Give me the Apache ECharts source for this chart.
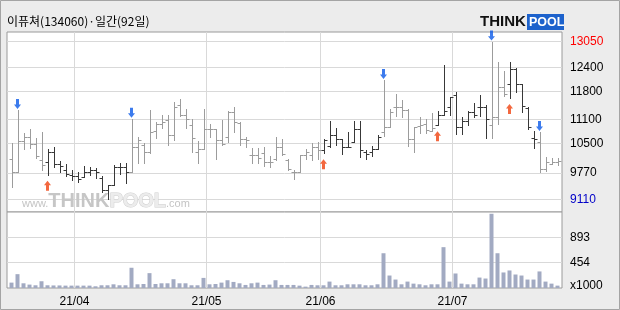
<!DOCTYPE html>
<html><head><meta charset="utf-8">
<script src="https://cdn.jsdelivr.net/npm/echarts@6/dist/echarts.min.js"></script>
<style>html,body{margin:0;padding:0;background:#ececec}#c{width:620px;height:310px}</style>
</head><body><div id="c"></div>
<script>
const titleText = '이퓨쳐(134060)·일간(92일)';
const opens  = [10120,9780,10570,10660,10490,10080,10030,10280,9990,9840,9720,9690,9660,9800,9840,9640,9340,9470,9910,9910,9790,10410,10470,10300,10820,10990,11090,10720,11470,11220,10970,10300,10360,10860,10860,10590,10660,11300,11010,10610,10220,10220,10260,10050,10110,10410,10090,9800,9800,10220,10220,10410,10330,10440,10720,10610,10410,10530,10860,10300,10300,10360,10780,10910,11410,11410,11340,10610,10940,10990,10820,10960,11210,11420,11710,10920,11060,11280,11420,11420,10960,11170,11920,12000,12360,12000,11390,10640,10530,9860,10000,10040];
const highs  = [10510,11340,10760,10870,10640,10800,10360,10410,10070,9990,9840,9800,9930,9910,9890,9690,9470,9970,10010,10010,11120,10670,10520,11330,11030,11220,11220,11530,11620,11360,11110,10560,11360,10990,10860,11080,11320,11410,11050,10660,10390,10390,10410,10190,10660,10620,10110,9840,10220,10360,10510,10530,10610,11070,10890,10610,10780,11070,11070,10330,10440,10720,12090,11360,11740,11580,11360,10910,11160,11110,11270,11310,12460,11670,11790,11170,11310,11520,11710,11460,13050,12530,12310,12530,12380,12000,11420,10810,10790,10170,10140,10130];
const lows   = [9410,9780,10360,10390,10140,9840,9720,9910,9790,9690,9580,9550,9660,9720,9640,9280,9110,9470,9740,9510,9780,10020,10010,10270,10650,10890,10470,10590,11200,10900,10300,10010,10360,10660,10110,10470,10550,10800,10470,10410,10010,10010,9940,9910,10080,10220,9830,9610,9800,10110,10090,10110,10260,10410,10470,10240,10410,10530,10160,10110,10180,10360,10690,10910,11180,11160,10440,10300,10760,10760,10810,10960,11210,11210,10750,10750,10960,11170,11190,10640,10640,11000,11690,11640,11790,11280,10860,10390,9790,9810,9980,9960];
const closes = [9780,10570,10660,10490,10180,9970,10280,9990,9930,9740,9690,9610,9800,9840,9780,9340,9470,9910,9910,9780,10410,10590,10280,10800,10990,11040,10720,11410,11220,11110,10650,10360,10860,10860,10580,10480,11280,11050,10610,10580,10220,10140,10050,10050,10410,10240,9860,9800,10220,10280,10410,10330,10590,10720,10610,10410,10410,10860,10330,10240,10360,10660,10910,11300,11410,11340,10610,10910,10970,10830,10900,11210,11310,11670,10920,11060,11280,11210,11420,11110,11170,11920,11730,12360,12000,11440,10920,10610,9860,10040,10030,10060];
const volumes = [95,244,83,60,48,119,48,45,45,42,42,42,42,42,30,48,48,65,48,48,357,65,71,262,71,83,83,155,83,83,48,48,178,65,71,95,137,107,83,54,83,95,54,60,137,54,54,54,42,24,54,48,48,113,48,48,65,65,65,48,48,65,613,220,149,65,113,77,65,48,65,65,720,113,256,77,65,65,184,167,1309,613,274,309,238,220,149,149,292,113,77,42];
const buySignals  = [6, 52, 71, 83];
const sellSignals = [1, 20, 62, 80, 88];
const priceTicks  = [9110, 9770, 10500, 11100, 11800, 12400, 13050];
const volumeTicks = [454, 893];
const monthLabels = ['21/04', '21/05', '21/06', '21/07'];
const monthStarts = [11, 33, 52, 74];

const DARK = '#383838', GRAY = '#9c9c9c', GRID = '#d9d9d9';
function isHolding(i) {
  let last = -1, type = null;
  buySignals.forEach(b => { if (b <= i && b > last) { last = b; type = 'buy'; } });
  sellSignals.forEach(s => { if (s <= i && s > last) { last = s; type = 'sell'; } });
  return type === 'buy';
}
const monthTicks = monthStarts.map(i => i - 0.5);
const ohlc = opens.map((o, i) => [i, o, highs[i], lows[i], closes[i]]);
const numFont = 'Liberation Sans';
const pMax = Math.max(...priceTicks), pMin = Math.min(...priceTicks);

const chart = echarts.init(document.getElementById('c'), null, {renderer: 'canvas'});
chart.setOption({
  animation: false,
  backgroundColor: '#ececec',
  title: {text: titleText, left: 7, top: 15, padding: 0,
    textStyle: {fontSize: 12, fontWeight: 'normal', color: '#000', fontFamily: 'Noto Sans CJK KR'}},
  grid: [
    {left: 7, top: 32, width: 555, height: 180, show: true, backgroundColor: '#fff', borderColor: '#9a9a9a', borderWidth: 1},
    {left: 7, top: 212, width: 555, height: 76, show: true, backgroundColor: '#fff', borderColor: '#9a9a9a', borderWidth: 1}
  ],
  xAxis: [
    {gridIndex: 0, type: 'value', min: -0.75, max: 91.75,
      axisLine: {show: false}, axisTick: {show: false, customValues: monthTicks},
      axisLabel: {show: false, customValues: monthTicks},
      splitLine: {show: true, lineStyle: {color: GRID, width: 1}}},
    {gridIndex: 1, type: 'value', min: -0.75, max: 91.75,
      axisLine: {show: false}, axisTick: {show: false, customValues: monthTicks},
      axisLabel: {show: true, customValues: monthTicks, margin: 8, color: '#000', fontSize: 12, fontFamily: numFont,
        formatter: v => monthLabels[monthTicks.indexOf(Number(v))] || ''},
      splitLine: {show: true, lineStyle: {color: GRID, width: 1}}}
  ],
  yAxis: [
    {gridIndex: 0, type: 'value', position: 'right', min: 8790, max: 13290,
      axisLine: {show: false}, axisTick: {show: false, customValues: priceTicks},
      axisLabel: {customValues: priceTicks, margin: 8, fontSize: 12, fontFamily: numFont,
        formatter: v => String(v),
        color: v => Number(v) === pMax ? '#ff0000' : (Number(v) === pMin ? '#0000c8' : '#000')},
      splitLine: {show: true, lineStyle: {color: GRID, width: 1}}},
    {gridIndex: 1, type: 'value', position: 'right', min: 0, max: 1340,
      axisLine: {show: false}, axisTick: {show: false, customValues: volumeTicks},
      axisLabel: {customValues: volumeTicks, margin: 8, fontSize: 12, fontFamily: numFont, color: '#000',
        formatter: v => String(v)},
      splitLine: {show: true, lineStyle: {color: GRID, width: 1}}}
  ],
  series: [
    {type: 'custom', xAxisIndex: 0, yAxisIndex: 0, data: ohlc, z: 3, silent: true,
      encode: {x: 0, y: [1, 2, 3, 4]},
      renderItem: (params, api) => {
        const i = api.value(0);
        const pO = api.coord([i, api.value(1)]);
        const pH = api.coord([i, api.value(2)]);
        const pL = api.coord([i, api.value(3)]);
        const pC = api.coord([i, api.value(4)]);
        const x = Math.round(pO[0]) + 0.5;
        const yo = Math.round(pO[1]) + 0.5, yc = Math.round(pC[1]) + 0.5;
        const st = {stroke: isHolding(i) ? DARK : GRAY, lineWidth: 1};
        return {type: 'group', children: [
          {type: 'line', shape: {x1: x, y1: Math.round(pH[1]), x2: x, y2: Math.round(pL[1]) + 1}, style: st},
          {type: 'line', shape: {x1: x - 3, y1: yo, x2: x, y2: yo}, style: st},
          {type: 'line', shape: {x1: x, y1: yc, x2: x + 3, y2: yc}, style: st}
        ]};
      }},
    {type: 'scatter', xAxisIndex: 0, yAxisIndex: 0, silent: true, z: 4,
      data: buySignals.map(i => [i, lows[i]]),
      symbol: 'path://M3.5,0 L7,4 L5,4 L5,9 L2,9 L2,4 L0,4 Z', symbolSize: [7, 10], symbolOffset: [0, 11],
      itemStyle: {color: '#f0420f'}},
    {type: 'scatter', xAxisIndex: 0, yAxisIndex: 0, silent: true, z: 4,
      data: sellSignals.map(i => [i, highs[i]]),
      symbol: 'path://M2,0 L5,0 L5,5 L7,5 L3.5,9 L0,5 L2,5 Z', symbolSize: [7, 10], symbolOffset: [0, -6],
      itemStyle: {color: '#0b5ae8'}},
    {type: 'bar', xAxisIndex: 1, yAxisIndex: 1, silent: true, barWidth: 4,
      data: volumes.map((v, i) => [i, v]), itemStyle: {color: '#a2aac2'}}
  ],
  graphic: [
    {type: 'rect', z: 100, silent: true, shape: {x: 0.5, y: 0.5, width: 619, height: 309},
      style: {fill: 'none', stroke: '#a4a4a4', lineWidth: 1}},
    {type: 'text', z: 1, silent: true, x: 22, y: 211,
      style: {text: '{a|www.}{b|THINK}{c|POOL}{a|.com}', verticalAlign: 'bottom',
        rich: {
          a: {fontSize: 11, fontFamily: numFont, fill: '#c4c4c4', verticalAlign: 'bottom', padding: [0, 0, 2, 0]},
          b: {fontSize: 20, fontWeight: 'bold', fontFamily: numFont, fill: '#c6c6c6', verticalAlign: 'bottom'},
          c: {fontSize: 20, fontWeight: 'bold', fontFamily: numFont, fill: '#ececec', stroke: '#d0d0d0', lineWidth: 1, verticalAlign: 'bottom'}
        }}},
    {type: 'text', z: 50, silent: true, x: 570, y: 286,
      style: {text: 'x1000', fontSize: 12, fontFamily: numFont, fill: '#000', verticalAlign: 'middle'}},
    {type: 'group', z: 50, silent: true, children: [
      {type: 'rect', shape: {x: 527, y: 14, width: 37, height: 16}, style: {fill: '#1d62cc'}},
      {type: 'text', x: 480, y: 22, style: {text: 'THINK', fontSize: 15, fontWeight: 'bold', fontFamily: numFont, fill: '#111', verticalAlign: 'middle'}},
      {type: 'text', x: 529, y: 22.5, style: {text: 'POOL', fontSize: 12.5, fontWeight: 'bold', fontFamily: numFont, fill: '#fff', verticalAlign: 'middle'}}
    ]}
  ]
});
</script></body></html>
